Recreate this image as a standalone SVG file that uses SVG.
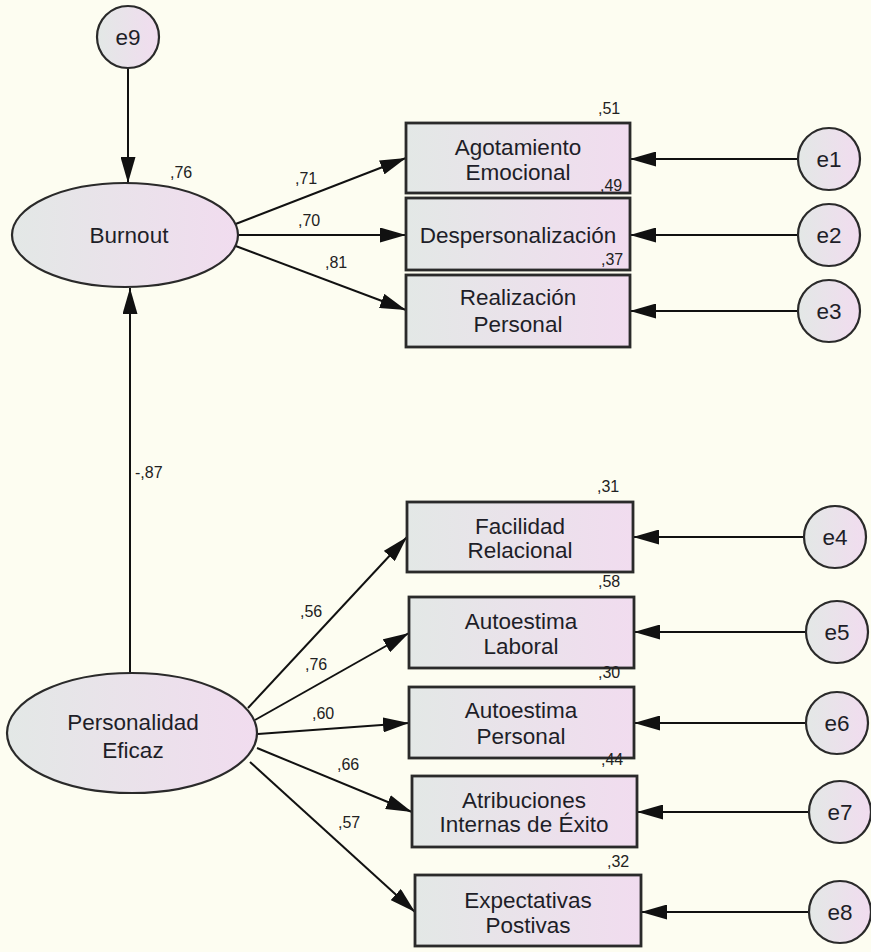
<svg xmlns="http://www.w3.org/2000/svg" width="871" height="952" viewBox="0 0 871 952">
<defs>
<linearGradient id="g" x1="0" y1="0" x2="1" y2="0">
<stop offset="0" stop-color="#e3e8e6"/>
<stop offset="1" stop-color="#f1dcef"/>
</linearGradient>
<marker id="ah" markerUnits="userSpaceOnUse" viewBox="0 0 26 15" refX="26" refY="7.5" markerWidth="26" markerHeight="15" orient="auto">
<path d="M0,0 L26,7.5 L0,15 z" fill="#111"/>
</marker>
</defs>
<style>
.n{fill:url(#g);stroke:#2a2a2a;stroke-width:2.2}
.b{fill:url(#g);stroke:#2a2a2a;stroke-width:2.8}
.t{font-family:"Liberation Sans",Arial,sans-serif;font-size:22.5px;fill:#1e1e28;text-anchor:middle}
.s{font-family:"Liberation Sans",Arial,sans-serif;font-size:16px;fill:#222}
.c line{stroke:#111;stroke-width:2;marker-end:url(#ah)}
</style>
<rect width="871" height="952" fill="#fdfdf1"/>
<g class="c" id="connectors">
<line x1="128" y1="68" x2="128" y2="183"/>
<line x1="130" y1="673" x2="130" y2="288"/>
<line x1="233" y1="225" x2="406" y2="158"/>
<line x1="237" y1="235" x2="406" y2="235"/>
<line x1="233" y1="245" x2="406" y2="310"/>
<line x1="797" y1="159" x2="630" y2="159"/>
<line x1="797" y1="235" x2="630" y2="235"/>
<line x1="797" y1="311" x2="630" y2="311"/>
<line x1="248" y1="708" x2="407" y2="537"/>
<line x1="255" y1="720" x2="409" y2="633"/>
<line x1="258" y1="734" x2="409" y2="723"/>
<line x1="257" y1="748" x2="412" y2="812"/>
<line x1="250" y1="762" x2="415" y2="912"/>
<line x1="804" y1="537" x2="633" y2="537"/>
<line x1="806" y1="632" x2="634" y2="632"/>
<line x1="806" y1="723" x2="634" y2="723"/>
<line x1="809" y1="812" x2="637" y2="812"/>
<line x1="809" y1="912" x2="641" y2="912"/>
</g>
<g id="e9"><circle class="n" cx="128" cy="37" r="31"/><text class="t" x="128" y="45">e9</text></g>
<g id="burnout"><ellipse class="n" cx="125" cy="235" rx="113" ry="52"/><text class="t" x="129" y="243">Burnout</text><text class="s" x="170" y="178">,76</text></g>
<g id="personalidad"><ellipse class="n" cx="132" cy="733" rx="125" ry="60"/><text class="t" x="133" y="730">Personalidad</text><text class="t" x="133" y="758">Eficaz</text></g>
<g id="agotamiento"><rect class="b" x="406" y="123" width="224" height="70"/><text class="t" x="518" y="155">Agotamiento</text><text class="t" x="518" y="180">Emocional</text><text class="s" x="598" y="114">,51</text></g>
<g id="despersonalizacion"><rect class="b" x="406" y="198" width="224" height="72"/><text class="t" x="518" y="243">Despersonalización</text><text class="s" x="600" y="191">,49</text></g>
<g id="realizacion"><rect class="b" x="406" y="275" width="224" height="72"/><text class="t" x="518" y="305">Realización</text><text class="t" x="518" y="332">Personal</text><text class="s" x="601" y="265">,37</text></g>
<g id="facilidad"><rect class="b" x="407" y="502" width="226" height="70"/><text class="t" x="520" y="534">Facilidad</text><text class="t" x="520" y="558">Relacional</text><text class="s" x="597" y="492">,31</text></g>
<g id="autoestimaLaboral"><rect class="b" x="409" y="597" width="225" height="71"/><text class="t" x="521" y="629">Autoestima</text><text class="t" x="521" y="654">Laboral</text><text class="s" x="598" y="587">,58</text></g>
<g id="autoestimaPersonal"><rect class="b" x="409" y="687" width="225" height="71"/><text class="t" x="521" y="718">Autoestima</text><text class="t" x="521" y="744">Personal</text><text class="s" x="598" y="678">,30</text></g>
<g id="atribuciones"><rect class="b" x="412" y="776" width="225" height="71"/><text class="t" x="524" y="808">Atribuciones</text><text class="t" x="524" y="832">Internas de Éxito</text><text class="s" x="601" y="765">,44</text></g>
<g id="expectativas"><rect class="b" x="415" y="875" width="226" height="71"/><text class="t" x="528" y="908">Expectativas</text><text class="t" x="528" y="933">Postivas</text><text class="s" x="607" y="867">,32</text></g>
<g id="e1"><circle class="n" cx="829" cy="159" r="31"/><text class="t" x="829" y="167">e1</text></g>
<g id="e2"><circle class="n" cx="829" cy="235" r="31"/><text class="t" x="829" y="243">e2</text></g>
<g id="e3"><circle class="n" cx="829" cy="311" r="31"/><text class="t" x="829" y="319">e3</text></g>
<g id="e4"><circle class="n" cx="835" cy="537" r="31"/><text class="t" x="835" y="545">e4</text></g>
<g id="e5"><circle class="n" cx="837" cy="632" r="31"/><text class="t" x="837" y="640">e5</text></g>
<g id="e6"><circle class="n" cx="837" cy="723" r="31"/><text class="t" x="837" y="731">e6</text></g>
<g id="e7"><circle class="n" cx="840" cy="812" r="31"/><text class="t" x="840" y="820">e7</text></g>
<g id="e8"><circle class="n" cx="840" cy="912" r="31"/><text class="t" x="840" y="920">e8</text></g>
<g id="labels">
<text class="s" x="295" y="184">,71</text>
<text class="s" x="298" y="226">,70</text>
<text class="s" x="325" y="268">,81</text>
<text class="s" x="135" y="478">-,87</text>
<text class="s" x="300" y="617">,56</text>
<text class="s" x="305" y="670">,76</text>
<text class="s" x="312" y="719">,60</text>
<text class="s" x="337" y="770">,66</text>
<text class="s" x="338" y="828">,57</text>
</g>
</svg>
